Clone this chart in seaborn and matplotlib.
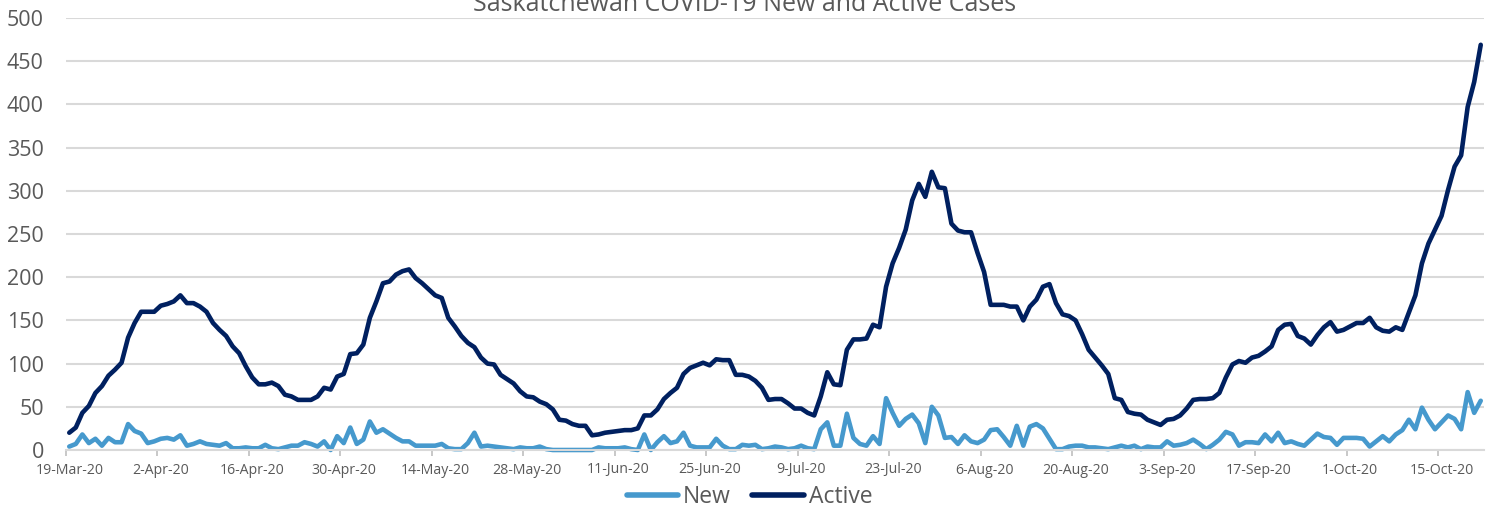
import pandas as pd
import matplotlib
matplotlib.use("Agg")
import matplotlib.pyplot as plt
import seaborn as sns

# daily values, 19-Mar-20 .. 21-Oct-20
dates = pd.date_range("2020-03-19", periods=217, freq="D")

new_cases = [
    4, 7, 18, 8, 13, 5, 14, 9, 9, 30,
    22, 19, 8, 10, 13, 14, 12, 17, 5, 7,
    10, 7, 6, 5, 8, 2, 2, 3, 2, 2,
    6, 2, 1, 3, 5, 5, 9, 7, 4, 10,
    0, 16, 8, 26, 7, 12, 33, 20, 24, 19,
    14, 10, 10, 5, 5, 5, 5, 7, 2, 1,
    1, 8, 20, 4, 5, 4, 3, 2, 1, 3,
    2, 2, 4, 1, 0, 0, 0, 0, 0, 0,
    0, 3, 2, 2, 2, 3, 1, 0, 18, 0,
    9, 16, 8, 10, 20, 5, 3, 3, 3, 13,
    5, 1, 1, 6, 5, 6, 1, 2, 4, 3,
    1, 2, 5, 2, 1, 24, 32, 5, 5, 42,
    14, 7, 5, 16, 7, 60, 43, 28, 36, 41,
    31, 8, 50, 40, 14, 15, 7, 17, 10, 8,
    12, 23, 24, 15, 5, 28, 5, 27, 30, 25,
    13, 1, 1, 4, 5, 5, 3, 3, 2, 1,
    3, 5, 3, 5, 1, 4, 3, 3, 10, 5,
    6, 8, 12, 7, 1, 6, 12, 21, 18, 5,
    9, 9, 8, 18, 10, 20, 8, 10, 7, 5,
    12, 19, 15, 14, 6, 14, 14, 14, 13, 4,
    10, 16, 10, 18, 23, 35, 24, 49, 35, 24,
    32, 40, 36, 24, 67, 43, 57,
]

active_cases = [
    20, 26, 43, 51, 66, 74, 86, 93, 101, 130,
    147, 160, 160, 160, 167, 169, 172, 179, 170, 170,
    166, 160, 147, 139, 132, 120, 112, 97, 84, 76,
    76, 78, 74, 64, 62, 58, 58, 58, 62, 72,
    70, 85, 88, 111, 112, 122, 153, 172, 193, 195,
    203, 207, 209, 199, 193, 186, 179, 176, 153, 143,
    132, 124, 119, 107, 100, 99, 87, 82, 77, 68,
    62, 61, 56, 53, 47, 35, 34, 30, 28, 28,
    17, 18, 20, 21, 22, 23, 23, 25, 40, 40,
    47, 59, 66, 72, 88, 95, 98, 101, 98, 105,
    104, 104, 87, 87, 85, 80, 72, 58, 59, 59,
    54, 48, 48, 43, 40, 62, 90, 76, 75, 116,
    128, 128, 129, 145, 142, 189, 216, 234, 255, 289,
    308, 293, 322, 304, 303, 262, 254, 252, 252, 228,
    206, 168, 168, 168, 166, 166, 150, 166, 174, 189,
    192, 170, 157, 155, 150, 134, 116, 107, 98, 88,
    60, 58, 44, 42, 41, 35, 32, 29, 35, 36,
    40, 48, 58, 59, 59, 60, 66, 84, 99, 103,
    101, 107, 109, 114, 120, 139, 145, 146, 132, 129,
    122, 133, 142, 148, 137, 139, 143, 147, 147, 153,
    142, 138, 137, 142, 139, 159, 179, 216, 239, 255,
    271, 301, 328, 341, 397, 426, 469,
]

series_colors = {"New": "#4699CD", "Active": "#002060"}
text_color = "#595959"
grid_color = "#D9D9D9"

df = pd.DataFrame({"Date": dates, "New": new_cases, "Active": active_cases})
long_df = df.melt(id_vars="Date", var_name="Series", value_name="Cases")

sns.set_theme(style="white")
plt.rcParams["font.family"] = ["Open Sans", "DejaVu Sans"]

fig = plt.figure(figsize=(14.96, 5.13), dpi=100)
ax = fig.add_axes([66 / 1496, 63 / 513, 1418 / 1496, 432 / 513])

sns.lineplot(data=long_df, x="Date", y="Cases", hue="Series",
             palette=series_colors, linewidth=3.3, ax=ax)
for line in ax.lines:
    line.set_clip_on(False)
    line.set_solid_joinstyle("round")

# axes
half_day = pd.Timedelta(hours=12)
ax.set_xlim(dates[0] - half_day, dates[-1] + half_day)
ax.set_ylim(0, 500)
ax.set_yticks(range(0, 501, 50))
ax.grid(axis="y", color=grid_color, linewidth=1.5)
ax.set_axisbelow(True)

label_dates = dates[::14]
ax.set_xticks(label_dates)
ax.set_xticklabels([f"{d.day}-{d:%b-%y}" for d in label_dates])
ax.set_xticks(label_dates - half_day, minor=True)
ax.tick_params(axis="x", which="major", length=0, pad=9,
               labelsize=10.2, labelcolor=text_color)
ax.tick_params(axis="x", which="minor", length=4, width=1.2,
               color="#BFBFBF", bottom=True)
ax.tick_params(axis="y", length=0, pad=16, labelsize=15.5,
               labelcolor=text_color)
ax.set_xlabel("")
ax.set_ylabel("")

for side in ["top", "left", "right"]:
    ax.spines[side].set_visible(False)
ax.spines["bottom"].set_color(grid_color)
ax.spines["bottom"].set_linewidth(1.5)

handles, labels = ax.get_legend_handles_labels()
leg = ax.legend(handles, labels, loc="center", bbox_to_anchor=(0.482, -0.109),
                ncol=2, frameon=False, fontsize=16.5, handlelength=2.25,
                handletextpad=0.2, columnspacing=0.95)
for t in leg.get_texts():
    t.set_color(text_color)
for h in leg.legend_handles:
    h.set_linewidth(4)

# title sits partly above the top edge, as in the source image
fig.text(745 / 1496, 1 - 11 / 513, "Saskatchewan COVID-19 New and Active Cases",
         ha="center", va="baseline", fontsize=18, color=text_color)

fig.savefig("out.png", dpi=100)
